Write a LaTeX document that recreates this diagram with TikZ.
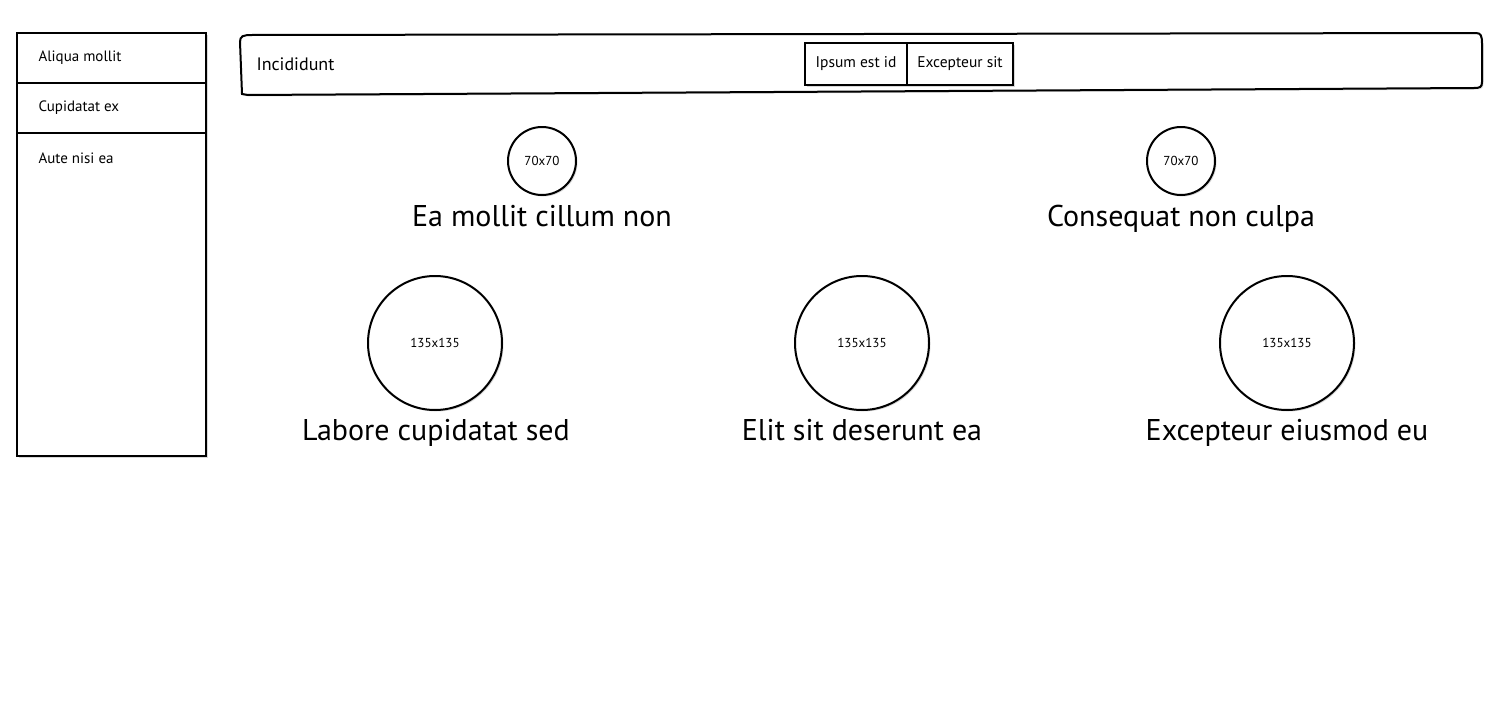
\documentclass[tikz,border=0pt]{standalone}
\usepackage{fontspec}
\setmainfont{PT Sans}
\usepackage{tikz}
\usetikzlibrary{shadows}

\begin{document}
\begin{tikzpicture}[x=1pt, y=-1pt,
  box/.style={draw, line width=2pt, fill=white,
    drop shadow={shadow xshift=1.5pt, shadow yshift=-1.5pt, opacity=0.3}},
  item/.style={anchor=west, font=\fontsize{15}{17}\selectfont},
  btn/.style={box, minimum height=42pt, inner sep=0pt, font=\fontsize{15.5}{17}\selectfont},
  pic/.style={box, circle, inner sep=0pt, font=\fontsize{13}{15}\selectfont},
  caption/.style={anchor=base, font=\fontsize{30}{34}\selectfont}]
\useasboundingbox (0,0) rectangle (1500,720);
% side menu
\node[box, minimum width=189pt, minimum height=423pt, inner sep=0pt] at (111.5,244.5) (side) {};
\draw[line width=2pt] (17,83) -- (206,83);
\draw[line width=2pt] (17,133) -- (206,133);
\node[item] at (35,58)  (m1) {Aliqua mollit};
\node[item] at (35,108) (m2) {Cupidatat ex};
\node[item] at (35,158) (m3) {Aute nisi ea};
% top bar
\draw[box] (240,42) .. controls (240,36) and (243,35) .. (252,35)
  -- (1476,33) .. controls (1481,33) and (1482,36) .. (1482,44)
  -- (1482,82) .. controls (1482,87) and (1480,88) .. (1474,88)
  -- (248,95) -- (242,94) -- cycle;
\node[anchor=west, font=\fontsize{18}{20}\selectfont] at (253,64) (title) {Incididunt};
\node[btn, minimum width=102pt] at (856,64) (b1) {Ipsum est id};
\node[btn, minimum width=106pt] at (960,64) (b2) {Excepteur sit};
% pictures
\node[pic, minimum size=68pt] at (542,161)  (p1) {70x70};
\node[pic, minimum size=68pt] at (1181,161) (p2) {70x70};
\node[caption] at (542,226)  (c1) {Ea mollit cillum non};
\node[caption] at (1181,226) (c2) {Consequat non culpa};
\node[pic, minimum size=134pt] at (435,343)  (p3) {135x135};
\node[pic, minimum size=134pt] at (862,343)  (p4) {135x135};
\node[pic, minimum size=134pt] at (1287,343) (p5) {135x135};
\node[caption] at (436,440)  (c3) {Labore cupidatat sed};
\node[caption] at (862,440)  (c4) {Elit sit deserunt ea};
\node[caption] at (1287,440) (c5) {Excepteur eiusmod eu};
\end{tikzpicture}
\end{document}
